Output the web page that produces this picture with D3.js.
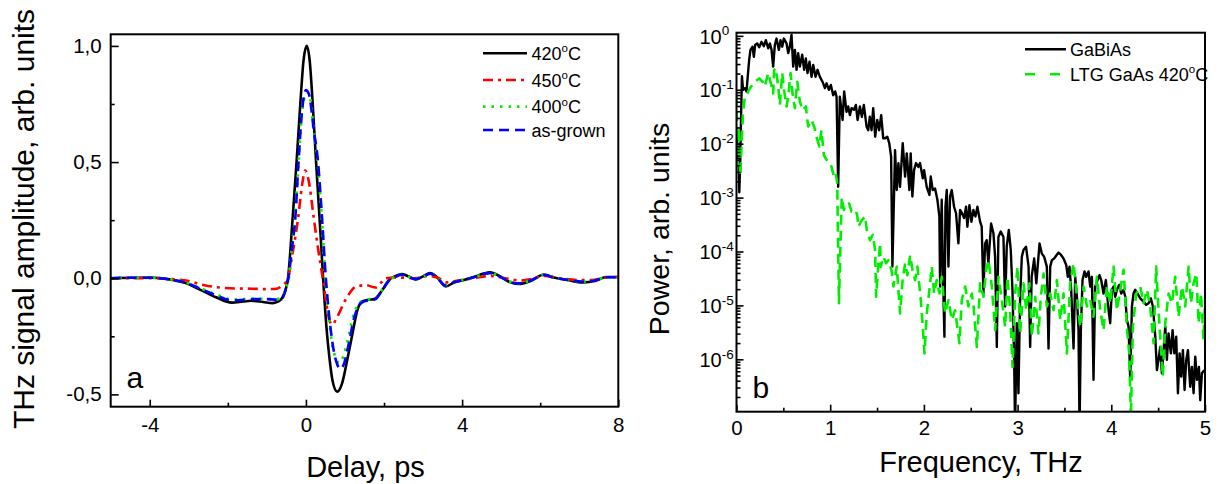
<!DOCTYPE html>
<html><head><meta charset="utf-8">
<script src="https://cdn.jsdelivr.net/npm/d3@7"></script>
<style>
body{margin:0;background:#fff;}
svg{display:block;font-family:"Liberation Sans",Arial,sans-serif;}
</style></head><body>
<svg id="c" width="1219" height="484"></svg>
<script>
// ---------- DATA ----------
const delayTicks = [-4, 0, 4, 8];
const delayMinor = [-2, 2, 6];
const ampTicks = [-0.5, 0, 0.5, 1.0];
const ampMinor = [-0.25, 0.25, 0.75];
const freqTicks = [0, 1, 2, 3, 4, 5];
const freqMinor = [0.5, 1.5, 2.5, 3.5, 4.5];
const powerTicks = [1e-6, 1e-5, 1e-4, 1e-3, 1e-2, 1e-1, 1];
const powerExp = ["-6", "-5", "-4", "-3", "-2", "-1", "0"];
const leftLegend = ["420", "450", "400", "as-grown"];
const rightLegend = ["GaBiAs", "LTG GaAs 420"];

// [delay ps, amplitude]
const s420 = [[-5,0],[-4.5,0.002],[-4,0.003],[-3.5,-0.005],[-3.1,-0.02],[-2.7,-0.05],[-2.3,-0.082],[-1.9,-0.105],[-1.6,-0.1],[-1.4,-0.097],
 [-1.1,-0.102],[-0.85,-0.107],[-0.7,-0.1],[-0.58,-0.075],[-0.46,0],[-0.34,0.26],[-0.24,0.5],[-0.14,0.76],[-0.06,0.94],[0.02,1.0],
 [0.1,0.93],[0.17,0.76],[0.26,0.5],[0.37,0.2],[0.44,0],[0.52,-0.2],[0.6,-0.34],[0.68,-0.44],[0.8,-0.488],[0.93,-0.45],
 [1.06,-0.35],[1.19,-0.24],[1.32,-0.136],[1.44,-0.1],[1.6,-0.093],[1.75,-0.09],[1.96,-0.05],[2.13,-0.007],[2.3,0.01],[2.45,0.018],
 [2.6,0.01],[2.8,-0.005],[3.0,0.008],[3.18,0.022],[3.35,0.005],[3.58,-0.035],[3.8,-0.018],[4.0,-0.01],[4.3,0.005],[4.55,0.02],
 [4.72,0.025],[4.95,0.01],[5.2,-0.015],[5.45,-0.025],[5.75,-0.012],[6.1,0.016],[6.35,0.003],[6.7,-0.008],[7.1,-0.018],[7.4,-0.012],
 [7.7,0.005],[8.0,0.005]];
const s450 = [[-5,0],[-4,0],[-3.5,-0.003],[-3.0,-0.012],[-2.6,-0.03],[-2.2,-0.04],[-1.8,-0.044],[-1.4,-0.045],[-1.0,-0.047],[-0.75,-0.045],
 [-0.6,-0.03],[-0.47,-0.005],[-0.35,0.1],[-0.2,0.26],[-0.1,0.4],[-0.02,0.463],[0.07,0.42],[0.2,0.26],[0.3,0.14],[0.43,0],
 [0.51,-0.093],[0.6,-0.18],[0.68,-0.2],[0.76,-0.18],[0.85,-0.15],[0.96,-0.11],[1.06,-0.08],[1.18,-0.05],[1.28,-0.036],[1.53,-0.03],
 [1.79,-0.04],[1.92,-0.02],[2.04,0],[2.3,0.003],[2.8,0],[3.15,0.01],[3.4,0],[3.6,-0.018],[3.9,-0.01],[4.3,0],
 [4.7,0.01],[5.1,0],[5.5,-0.01],[5.8,-0.003],[6.1,0.01],[6.5,0],[7.0,-0.008],[7.3,-0.008],[7.7,0.003],[8.0,0.005]];
const s400 = [[-5,0],[-4.5,0.002],[-4,0.002],[-3.5,-0.004],[-3.1,-0.017],[-2.7,-0.043],[-2.3,-0.07],[-1.9,-0.092],[-1.6,-0.09],[-1.3,-0.088],
 [-1.0,-0.09],[-0.75,-0.09],[-0.6,-0.08],[-0.52,-0.045],[-0.44,0],[-0.35,0.15],[-0.27,0.28],[-0.18,0.52],[-0.09,0.73],[0.02,0.80],
 [0.1,0.78],[0.2,0.64],[0.3,0.5],[0.4,0.27],[0.49,0.02],[0.58,-0.16],[0.68,-0.29],[0.78,-0.35],[0.85,-0.365],[0.95,-0.34],
 [1.08,-0.26],[1.2,-0.17],[1.33,-0.115],[1.48,-0.095],[1.65,-0.09],[1.78,-0.088],[1.96,-0.048],[2.13,-0.008],[2.3,0.006],[2.45,0.014],
 [2.6,0.008],[2.8,-0.004],[3.0,0.006],[3.18,0.02],[3.35,0.004],[3.58,-0.03],[3.8,-0.016],[4.0,-0.008],[4.3,0.004],[4.55,0.017],
 [4.72,0.022],[4.95,0.008],[5.2,-0.013],[5.45,-0.022],[5.75,-0.01],[6.1,0.014],[6.35,0.003],[6.7,-0.007],[7.1,-0.015],[7.4,-0.01],
 [7.7,0.004],[8.0,0.004]];
const sAsGrown = [[-5,0],[-4.5,0.002],[-4,0.002],[-3.5,-0.005],[-3.1,-0.018],[-2.7,-0.045],[-2.3,-0.074],[-1.9,-0.095],[-1.6,-0.093],[-1.3,-0.09],
 [-1.0,-0.09],[-0.75,-0.092],[-0.6,-0.085],[-0.52,-0.05],[-0.45,0],[-0.35,0.14],[-0.27,0.265],[-0.19,0.5],[-0.1,0.72],[0.0,0.81],
 [0.08,0.79],[0.2,0.64],[0.31,0.5],[0.41,0.265],[0.51,0],[0.6,-0.17],[0.7,-0.3],[0.8,-0.37],[0.88,-0.39],[0.97,-0.37],
 [1.1,-0.28],[1.22,-0.18],[1.35,-0.12],[1.48,-0.1],[1.65,-0.095],[1.78,-0.09],[1.96,-0.05],[2.13,-0.01],[2.3,0.006],[2.45,0.015],
 [2.6,0.008],[2.8,-0.004],[3.0,0.007],[3.18,0.02],[3.35,0.004],[3.58,-0.032],[3.8,-0.016],[4.0,-0.008],[4.3,0.004],[4.55,0.018],
 [4.72,0.022],[4.95,0.008],[5.2,-0.013],[5.45,-0.022],[5.75,-0.01],[6.1,0.014],[6.35,0.003],[6.7,-0.007],[7.1,-0.015],[7.4,-0.01],
 [7.7,0.004],[8.0,0.004]];

// [frequency THz, log10 power]
const specGaBiAs = [[0,-1.75],[0.01,-2.4],[0.02,-2.0],[0.03,-2.9],[0.04,-2.3],[0.05,-1.4],[0.058,-0.75],[0.07,-1.0],[0.089,-0.97],[0.107,-1.03],[0.12,-0.75],[0.135,-0.45],[0.149,-0.26],[0.171,-0.2],[0.185,-0.39],[0.199,-0.17],[0.221,-0.14],[0.242,-0.21],[0.267,-0.11],[0.292,-0.19],[0.313,-0.08],[0.338,-0.23],[0.356,-0.14],[0.374,-0.26],[0.391,-0.57],[0.409,-0.17],[0.427,-0.05],[0.452,-0.26],[0.47,-0.08],[0.488,-0.2],[0.505,-0.05],[0.534,-0.14],[0.552,-0.32],[0.569,-0.2],[0.587,0.02],[0.605,-0.57],[0.623,-0.26],[0.641,-0.63],[0.658,-0.32],[0.676,-0.57],[0.701,-0.35],[0.722,-0.63],[0.74,-0.42],[0.758,-0.69],[0.779,-0.48],[0.801,-0.76],[0.819,-0.54],[0.843,-0.76],[0.865,-0.63],[0.89,-0.76],[0.918,-0.85],[0.943,-0.97],[0.961,-0.88],[0.986,-1.0],[1.007,-0.91],[1.032,-1.1],[1.053,-1.03],[1.068,-1.13],[1.085,-2.8],[1.103,-1.13],[1.132,-1.56],[1.149,-1.03],[1.174,-1.41],[1.192,-1.31],[1.21,-1.47],[1.228,-1.34],[1.253,-1.37],[1.274,-1.28],[1.292,-1.56],[1.317,-1.31],[1.338,-1.5],[1.359,-1.28],[1.388,-1.68],[1.406,-1.75],[1.423,-1.5],[1.441,-1.75],[1.459,-1.34],[1.48,-1.87],[1.502,-1.56],[1.523,-1.75],[1.544,-1.47],[1.566,-1.9],[1.587,-1.9],[1.609,-1.87],[1.63,-1.99],[1.65,-2.24],[1.664,-4.28],[1.692,-2.12],[1.71,-2.86],[1.728,-2.36],[1.745,-2.8],[1.774,-1.99],[1.799,-2.61],[1.817,-2.18],[1.845,-2.86],[1.859,-2.18],[1.877,-2.98],[1.895,-2.49],[1.916,-2.36],[1.941,-2.43],[1.959,-2.36],[1.988,-2.64],[2.002,-2.49],[2.03,-2.8],[2.059,-2.95],[2.073,-2.61],[2.094,-2.86],[2.119,-2.83],[2.144,-3.04],[2.165,-3.35],[2.173,-4.65],[2.19,-3.04],[2.208,-4.78],[2.219,-5.58],[2.23,-3.17],[2.244,-2.86],[2.262,-4.28],[2.279,-2.98],[2.297,-2.86],[2.322,-3.17],[2.343,-3.29],[2.368,-3.85],[2.386,-3.23],[2.407,-3.29],[2.429,-3.38],[2.45,-3.17],[2.464,-3.54],[2.486,-3.14],[2.507,-3.45],[2.528,-3.23],[2.55,-3.35],[2.571,-3.17],[2.6,-3.45],[2.617,-3.54],[2.635,-4.78],[2.653,-3.85],[2.67,-3.79],[2.688,-4.22],[2.717,-3.48],[2.742,-3.66],[2.76,-4.1],[2.778,-5.77],[2.795,-3.73],[2.82,-3.63],[2.849,-3.73],[2.867,-5.02],[2.884,-3.91],[2.906,-3.6],[2.927,-3.97],[2.945,-4.71],[2.963,-5.95],[2.973,-7.3],[2.991,-5.33],[3.009,-6.63],[3.027,-4.84],[3.045,-4.1],[3.063,-3.97],[3.09,-3.91],[3.117,-4.28],[3.134,-5.77],[3.15,-4.47],[3.177,-4.13],[3.2,-4.59],[3.234,-3.85],[3.259,-4.04],[3.284,-4.1],[3.312,-4.28],[3.33,-5.8],[3.348,-4.28],[3.366,-4.16],[3.39,-4.13],[3.419,-4.06],[3.437,-4.02],[3.462,-4.06],[3.49,-4.13],[3.519,-4.25],[3.536,-4.47],[3.554,-4.28],[3.572,-4.71],[3.597,-5.8],[3.615,-4.47],[3.633,-4.84],[3.65,-5.46],[3.661,-7.3],[3.675,-5.46],[3.693,-4.53],[3.714,-4.37],[3.732,-4.47],[3.757,-4.37],[3.775,-4.65],[3.793,-4.47],[3.81,-6.38],[3.828,-4.65],[3.853,-4.53],[3.874,-4.44],[3.892,-4.53],[3.917,-4.78],[3.942,-4.53],[3.971,-5.09],[3.988,-5.33],[4.006,-4.71],[4.024,-4.65],[4.042,-4.84],[4.06,-4.71],[4.084,-4.62],[4.106,-4.78],[4.131,-4.71],[4.149,-4.84],[4.166,-5.27],[4.184,-5.39],[4.202,-6.38],[4.22,-5.02],[4.237,-4.78],[4.255,-4.71],[4.28,-4.78],[4.309,-4.87],[4.344,-4.93],[4.373,-4.99],[4.398,-4.96],[4.422,-4.87],[4.444,-5.02],[4.469,-5.58],[4.487,-6.2],[4.504,-6.01],[4.522,-5.77],[4.54,-6.26],[4.558,-5.83],[4.576,-5.39],[4.593,-6.01],[4.611,-5.52],[4.636,-5.89],[4.654,-5.46],[4.672,-5.89],[4.693,-5.58],[4.711,-6.63],[4.729,-5.89],[4.746,-6.32],[4.764,-5.83],[4.782,-6.57],[4.8,-6.01],[4.818,-5.83],[4.842,-6.51],[4.86,-6.14],[4.878,-6.63],[4.896,-5.95],[4.914,-6.38],[4.935,-6.14],[4.949,-6.76],[4.967,-6.26],[4.992,-6.2]];
const specLTG = [[0,-1.1],[0.012,-2.4],[0.025,-1.7],[0.04,-2.6],[0.055,-2.0],[0.07,-1.4],[0.09,-1.13],[0.1,-1.13],[0.142,-0.97],[0.196,-0.85],[0.242,-0.79],[0.278,-0.85],[0.302,-0.94],[0.338,-0.69],[0.367,-0.88],[0.391,-1.07],[0.402,-0.63],[0.42,-0.6],[0.445,-0.94],[0.463,-1.28],[0.488,-0.69],[0.505,-0.97],[0.534,-1.31],[0.552,-1.13],[0.577,-0.69],[0.598,-1.07],[0.623,-1.34],[0.648,-0.85],[0.676,-1.22],[0.705,-1.38],[0.74,-1.31],[0.765,-1.68],[0.8,-1.56],[0.829,-1.68],[0.854,-1.87],[0.883,-2.05],[0.907,-1.75],[0.932,-2.21],[0.961,-2.3],[0.989,-2.33],[1.014,-2.43],[1.039,-2.61],[1.06,-2.55],[1.075,-2.74],[1.093,-4.96],[1.123,-3.0],[1.146,-3.23],[1.159,-3.17],[1.174,-3.11],[1.203,-3.11],[1.228,-3.26],[1.265,-3.23],[1.288,-3.32],[1.301,-3.54],[1.337,-3.42],[1.372,-3.35],[1.39,-3.6],[1.425,-3.79],[1.454,-3.69],[1.479,-3.97],[1.49,-4.84],[1.515,-4.22],[1.532,-3.85],[1.54,-4.28],[1.568,-4.1],[1.597,-4.22],[1.621,-4.16],[1.657,-4.37],[1.675,-4.65],[1.71,-4.28],[1.746,-5.15],[1.774,-4.5],[1.8,-4.22],[1.824,-4.44],[1.853,-4.07],[1.881,-4.37],[1.906,-4.53],[1.931,-4.28],[1.967,-4.9],[1.988,-5.4],[2.006,-5.89],[2.031,-5.15],[2.066,-4.59],[2.084,-4.28],[2.109,-4.78],[2.137,-4.53],[2.166,-4.78],[2.19,-4.47],[2.226,-5.15],[2.262,-4.9],[2.298,-5.27],[2.333,-5.09],[2.379,-5.7],[2.404,-4.9],[2.44,-4.65],[2.475,-5.02],[2.511,-4.78],[2.53,-5.02],[2.565,-5.77],[2.6,-4.59],[2.636,-4.84],[2.665,-4.34],[2.69,-4.16],[2.725,-4.65],[2.76,-5.46],[2.796,-4.47],[2.832,-4.9],[2.867,-5.4],[2.892,-4.47],[2.92,-5.09],[2.946,-6.14],[2.974,-4.78],[2.999,-4.28],[3.028,-5.52],[3.063,-4.59],[3.092,-5.09],[3.127,-4.59],[3.152,-5.58],[3.188,-4.84],[3.223,-5.52],[3.248,-4.84],[3.277,-4.41],[3.312,-5.02],[3.348,-4.78],[3.383,-5.09],[3.419,-4.53],[3.455,-5.27],[3.49,-4.78],[3.526,-5.89],[3.561,-4.59],[3.597,-4.22],[3.633,-4.84],[3.668,-5.4],[3.704,-4.65],[3.74,-5.02],[3.775,-4.9],[3.81,-5.21],[3.846,-4.47],[3.882,-5.09],[3.917,-5.46],[3.953,-4.65],[3.988,-4.96],[4.024,-4.28],[4.06,-5.09],[4.095,-4.71],[4.131,-4.34],[4.166,-5.4],[4.191,-5.89],[4.209,-7.1],[4.23,-5.4],[4.266,-4.78],[4.309,-4.65],[4.344,-4.96],[4.38,-4.71],[4.415,-5.02],[4.451,-5.7],[4.479,-4.28],[4.504,-5.09],[4.529,-5.77],[4.55,-6.32],[4.576,-5.33],[4.611,-4.78],[4.647,-4.96],[4.682,-4.47],[4.718,-5.21],[4.754,-4.65],[4.789,-5.02],[4.825,-4.28],[4.85,-4.96],[4.878,-4.59],[4.907,-4.41],[4.932,-5.33],[4.957,-4.78],[4.985,-5.64],[5.0,-4.9]];

// ---------- DRAW ----------
const svg = d3.select('#c');
const FONT = '"Liberation Sans", Arial, sans-serif';
const TICKFS = 20.5;

function styleAxis(g, fs){
  g.select('.domain').remove();
  g.attr('font-family', FONT).attr('font-size', fs);
  g.selectAll('.tick line').attr('stroke', '#000').attr('stroke-width', 1.6);
  g.selectAll('.tick text').attr('fill', '#000');
}

// ===== Left panel =====
const L = {x0:110.7, x1:618.3, y0:34.3, y1:406.7};
const xL = d3.scaleLinear().domain([-5, 8]).range([L.x0, L.x1]);
const yL = d3.scaleLinear().domain([-0.553, 1.05]).range([L.y1, L.y0]);

svg.append('clipPath').attr('id','clipL').append('rect')
  .attr('x', L.x0).attr('y', L.y0).attr('width', L.x1-L.x0).attr('height', L.y1-L.y0);

const lineL = d3.line().x(d => xL(d[0])).y(d => yL(d[1])).curve(d3.curveMonotoneX);
const leftSeries = [
  {data: s420, color:'#000000', dash:null, w:2.6},
  {data: s450, color:'#ff0000', dash:'10,5,3,5', w:2.6},
  {data: s400, color:'#00ee00', dash:'2.5,6', w:2.8},
  {data: sAsGrown, color:'#0000ff', dash:'10,6', w:2.6}
];
const gLc = svg.append('g').attr('clip-path','url(#clipL)');
leftSeries.forEach(s => {
  gLc.append('path').datum(s.data).attr('d', lineL)
    .attr('fill','none').attr('stroke', s.color).attr('stroke-width', s.w)
    .attr('stroke-dasharray', s.dash).attr('stroke-linejoin','round');
});

let ax = svg.append('g').attr('transform', `translate(0,${L.y1})`)
  .call(d3.axisBottom(xL).tickValues(delayTicks).tickSize(-7).tickSizeOuter(0).tickPadding(11).tickFormat(d => String(d)));
styleAxis(ax, TICKFS);
ax = svg.append('g').attr('transform', `translate(0,${L.y1})`)
  .call(d3.axisBottom(xL).tickValues(delayMinor).tickSize(-4).tickSizeOuter(0).tickFormat(''));
styleAxis(ax, TICKFS);
ax = svg.append('g').attr('transform', `translate(${L.x0},0)`)
  .call(d3.axisLeft(yL).tickValues(ampTicks).tickSize(-8).tickSizeOuter(0).tickPadding(9)
  .tickFormat(d => d.toFixed(1).replace('.', ',')));
styleAxis(ax, TICKFS);
ax = svg.append('g').attr('transform', `translate(${L.x0},0)`)
  .call(d3.axisLeft(yL).tickValues(ampMinor).tickSize(-4).tickSizeOuter(0).tickFormat(''));
styleAxis(ax, TICKFS);

svg.append('rect').attr('x', L.x0).attr('y', L.y0).attr('width', L.x1-L.x0).attr('height', L.y1-L.y0)
  .attr('fill','none').attr('stroke','#000').attr('stroke-width', 2);

// left legend
const legL = svg.append('g');
const legRowsY = [53.3, 80, 106.7, 130];
leftSeries.forEach((s, i) => {
  legL.append('line').attr('x1', 483).attr('x2', 527).attr('y1', legRowsY[i]).attr('y2', legRowsY[i])
    .attr('stroke', s.color).attr('stroke-width', s.w).attr('stroke-dasharray', s.dash);
  const t = legL.append('text').attr('x', 531.5).attr('y', legRowsY[i] + 6.5)
    .attr('font-size', 18).attr('font-family', FONT).attr('fill', '#000');
  t.append('tspan').text(leftLegend[i]);
  if (i < 3) {
    t.append('tspan').attr('font-size', 11.5).attr('dy', -7.5).text('o');
    t.append('tspan').attr('dy', 7.5).text('C');
  }
});

svg.append('text').attr('x', 126.5).attr('y', 387.7).attr('font-size', 30).attr('font-family', FONT).text('a');
svg.append('text').attr('x', 365.5).attr('y', 477).attr('text-anchor','middle')
  .attr('font-size', 29).attr('font-family', FONT).text('Delay, ps');
svg.append('text').attr('transform', 'translate(33.7,219) rotate(-90)').attr('text-anchor','middle')
  .attr('font-size', 30).attr('font-family', FONT).text('THz signal amplitude, arb. units');

// ===== Right panel =====
const R = {x0:736.5, x1:1205, y0:32.7, y1:411.7};
const xR = d3.scaleLinear().domain([0, 5]).range([R.x0, R.x1]);
const yR = d3.scaleLog().domain([Math.pow(10, -6.972), Math.pow(10, 0.059)]).range([R.y1, R.y0]);

svg.append('clipPath').attr('id','clipR').append('rect')
  .attr('x', R.x0).attr('y', R.y0).attr('width', R.x1-R.x0).attr('height', R.y1-R.y0);

const lineR = d3.line().x(d => xR(d[0])).y(d => yR(Math.pow(10, d[1])));
const rightSeries = [
  {data: specGaBiAs, color:'#000000', dash:null, w:2.4},
  {data: specLTG, color:'#00ee00', dash:'10,6', w:2.6}
];
const gRc = svg.append('g').attr('clip-path','url(#clipR)');
rightSeries.forEach(s => {
  gRc.append('path').datum(s.data).attr('d', lineR)
    .attr('fill','none').attr('stroke', s.color).attr('stroke-width', s.w)
    .attr('stroke-dasharray', s.dash).attr('stroke-linejoin','round');
});

ax = svg.append('g').attr('transform', `translate(0,${R.y1})`)
  .call(d3.axisBottom(xR).tickValues(freqTicks).tickSize(-7).tickSizeOuter(0).tickPadding(9).tickFormat(d => String(d)));
styleAxis(ax, TICKFS);
ax = svg.append('g').attr('transform', `translate(0,${R.y1})`)
  .call(d3.axisBottom(xR).tickValues(freqMinor).tickSize(-4).tickSizeOuter(0).tickFormat(''));
styleAxis(ax, TICKFS);

const minorLog = yR.ticks().filter(v => Math.abs(Math.log10(v) - Math.round(Math.log10(v))) > 1e-6);
ax = svg.append('g').attr('transform', `translate(${R.x0},0)`)
  .call(d3.axisLeft(yR).tickValues(minorLog).tickSize(-4).tickSizeOuter(0).tickFormat(''));
styleAxis(ax, TICKFS);
ax = svg.append('g').attr('transform', `translate(${R.x0},0)`)
  .call(d3.axisLeft(yR).tickValues(powerTicks).tickSize(-7).tickSizeOuter(0).tickFormat(''));
styleAxis(ax, TICKFS);
ax.selectAll('.tick text').each(function(d, i){
  const t = d3.select(this).attr('x', -37).attr('text-anchor', 'start').attr('dy', '0.36em').attr('font-size', 20).text(null);
  t.append('tspan').text('10');
  t.append('tspan').attr('font-size', 13.5).attr('dy', -8.5).text(powerExp[i]);
});

svg.append('rect').attr('x', R.x0).attr('y', R.y0).attr('width', R.x1-R.x0).attr('height', R.y1-R.y0)
  .attr('fill','none').attr('stroke','#000').attr('stroke-width', 2);

// right legend
const legR = svg.append('g');
const legRY = [49.3, 74.3];
rightSeries.forEach((s, i) => {
  legR.append('line').attr('x1', 1025).attr('x2', 1066).attr('y1', legRY[i]).attr('y2', legRY[i])
    .attr('stroke', s.color).attr('stroke-width', s.w).attr('stroke-dasharray', s.dash ? '10,15' : null);
  const t = legR.append('text').attr('x', 1070).attr('y', legRY[i] + 6.5)
    .attr('font-size', 18).attr('font-family', FONT).attr('fill', '#000');
  t.append('tspan').text(rightLegend[i]);
  if (i === 1) {
    t.append('tspan').attr('font-size', 11.5).attr('dy', -7.5).text('o');
    t.append('tspan').attr('dy', 7.5).text('C');
  }
});

svg.append('text').attr('x', 752.5).attr('y', 398).attr('font-size', 30).attr('font-family', FONT).text('b');
svg.append('text').attr('x', 981).attr('y', 472).attr('text-anchor','middle')
  .attr('font-size', 29).attr('font-family', FONT).text('Frequency, THz');
svg.append('text').attr('transform', 'translate(669,229) rotate(-90)').attr('text-anchor','middle')
  .attr('font-size', 28.5).attr('font-family', FONT).text('Power, arb. units');
</script>
</body></html>
